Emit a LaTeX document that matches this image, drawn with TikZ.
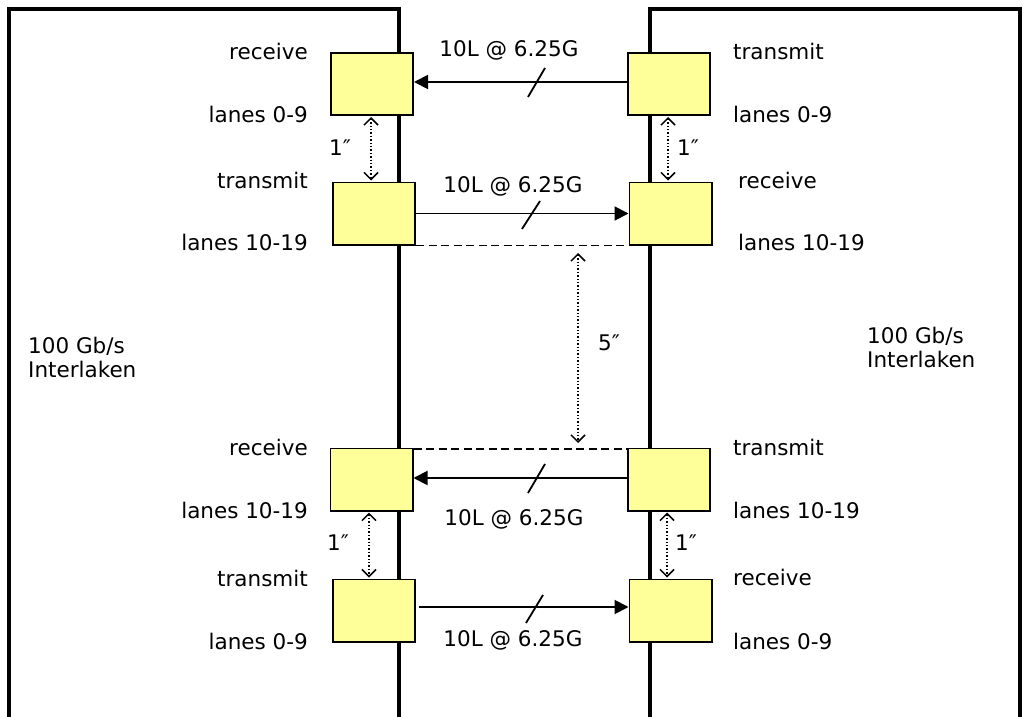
\documentclass[tikz,border=0pt]{standalone}
\usepackage{fontspec}
\setmainfont{DejaVu Sans}
\usetikzlibrary{arrows.meta,calc}
\definecolor{boxyellow}{HTML}{FFFF99}
\tikzset{
  board/.style={line width=3.6pt},
  lanebox/.style={draw, line width=1.8pt, fill=boxyellow, minimum width=82.2pt, minimum height=62.2pt, inner sep=0pt},
  link/.style={line width=1.9pt, -{Triangle[length=14pt,width=14pt]}},
  slashmark/.style={line width=1.8pt},
  gap/.style={line width=1.4pt, dotted, {Straight Barb[length=7pt,width=14pt,line width=1.5pt]}-{Straight Barb[length=7pt,width=14pt,line width=1.5pt]}},
  guide/.style={line width=1.6pt, dash pattern=on 8pt off 4.5pt},
  lbl/.style={inner sep=0pt, font=\fontsize{21.5}{24}\selectfont},
  lblL/.style={lbl, anchor=base east},
  lblR/.style={lbl, anchor=base west},
  lblC/.style={lbl, anchor=base},
}
\begin{document}
\begin{tikzpicture}[x=1pt,y=-1pt]
\useasboundingbox (0,0) rectangle (1029,717);
% boards
\draw[board] (9,720) -- (9,9) -- (399,9) -- (399,720);
\draw[board] (650,720) -- (650,9) -- (1020,9) -- (1020,720);
% boxes
\node[lanebox] (L1) at (372,84) {};
\node[lanebox] (L2) at (374,213.5) {};
\node[lanebox] (R1) at (669,84) {};
\node[lanebox] (R2) at (670.5,213.5) {};
\node[lanebox] (L3) at (371.5,479.5) {};
\node[lanebox] (R3) at (669,479.5) {};
\node[lanebox] (L4) at (374,610.5) {};
\node[lanebox] (R4) at (670.5,610.5) {};
% links
\draw[link] ([yshift=2pt]R1.west) -- ([yshift=2pt]L1.east);
\draw[link] (L2.east) -- (R2.west);
\draw[link] ([yshift=1.5pt]R3.west) -- ([yshift=1.5pt]L3.east);
\draw[link] ([xshift=3pt,yshift=3.5pt]L4.east) -- ([yshift=3.5pt]R4.west);
% slash marks
\draw[slashmark] (528,97) -- (545,68);
\draw[slashmark] (522,229) -- (540,201);
\draw[slashmark] (528,493) -- (545,464);
\draw[slashmark] (526,623) -- (543,595);
% link labels
\node[lblC] (t1) at (509,57) {10L @ 6.25G};
\node[lblC] (t2) at (513,192) {10L @ 6.25G};
\node[lblC] (t3) at (514,525) {10L @ 6.25G};
\node[lblC] (t4) at (513,646) {10L @ 6.25G};
% dashed guides
\draw[guide] (L2.south east) -- (R2.south west);
\draw[guide] ([yshift=-1.5pt]L3.north east) -- ([yshift=-1.5pt]R3.north west);
\coordinate (d1) at (578,245);
\coordinate (d2) at (578,449);
\draw[gap] ([yshift=-8pt]d1) -- ([yshift=6pt]d2);
\node[lblR] (five) at (598,350) {5″};
% 1 inch gaps
\draw[gap] ([xshift=-1pt,yshift=-1pt]L1.south) -- ([xshift=-1pt,yshift=1pt]L1.south |- L2.north);
\draw[gap] ([xshift=-1pt,yshift=-1pt]R1.south) -- ([xshift=-1pt,yshift=1pt]R1.south |- R2.north);
\draw[gap] ([xshift=-2.5pt,yshift=-1pt]L3.south) -- ([xshift=-2.5pt,yshift=1pt]L3.south |- L4.north);
\draw[gap] ([xshift=-2pt,yshift=-1pt]R3.south) -- ([xshift=-2pt,yshift=1pt]R3.south |- R4.north);
\node[lblR] (g1) at (329,155) {1″};
\node[lblR] (g2) at (677,155) {1″};
\node[lblR] (g3) at (327,550) {1″};
\node[lblR] (g4) at (675,550) {1″};
% left side labels
\node[lblL] (a1) at (308,60) {receive};
\node[lblL] (a2) at (308,122) {lanes 0-9};
\node[lblL] (a3) at (308,188) {transmit};
\node[lblL] (a4) at (308,250) {lanes 10-19};
\node[lblL] (a5) at (308,455) {receive};
\node[lblL] (a6) at (308,518) {lanes 10-19};
\node[lblL] (a7) at (308,586) {transmit};
\node[lblL] (a8) at (308,649) {lanes 0-9};
% right side labels
\node[lblR] (b1) at (733,60) {transmit};
\node[lblR] (b2) at (733,122) {lanes 0-9};
\node[lblR] (b3) at (738,188) {receive};
\node[lblR] (b4) at (738,250) {lanes 10-19};
\node[lblR] (b5) at (733,455) {transmit};
\node[lblR] (b6) at (733,518) {lanes 10-19};
\node[lblR] (b7) at (733,585) {receive};
\node[lblR] (b8) at (733,649) {lanes 0-9};
% board titles
\node[lbl, anchor=base west, align=left] (i1) at (28,377) {100 Gb/s\\Interlaken};
\node[lbl, anchor=base west, align=left] (i2) at (867,367) {100 Gb/s\\Interlaken};
\end{tikzpicture}
\end{document}
